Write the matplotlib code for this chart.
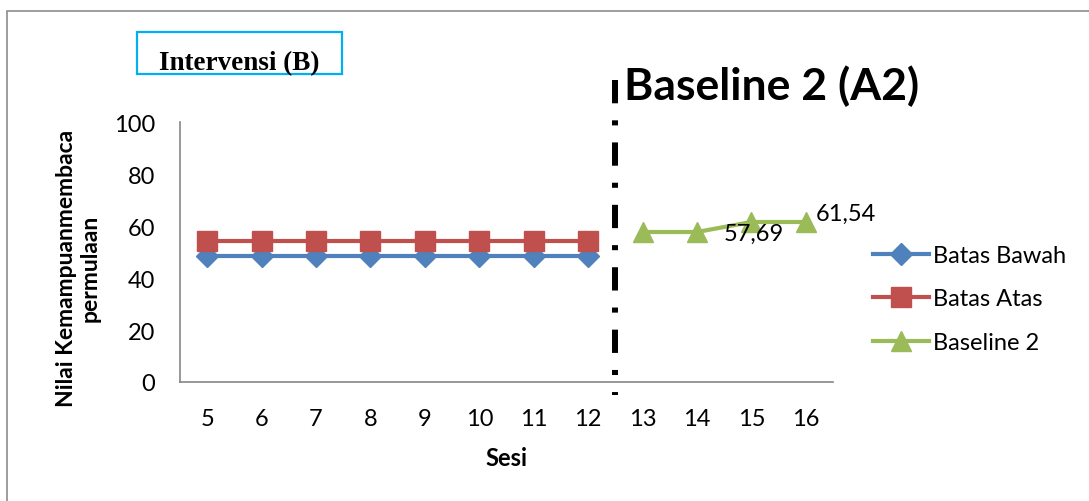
import matplotlib.pyplot as plt
from matplotlib.patches import Rectangle

sesi = ["5", "6", "7", "8", "9", "10", "11", "12", "13", "14", "15", "16"]
batas_bawah = [48.3] * 8
batas_atas = [54.4] * 8
baseline2 = [57.69, 57.69, 61.54, 61.54]
baseline2_labels = {1: "57,69", 3: "61,54"}
label_offsets = {1: (19, -1), 3: (7, 6)}

plt.rcParams["font.family"] = ["Lato", "DejaVu Sans"]

fig = plt.figure(figsize=(10.89, 5.02), dpi=100)
W, H = 1089, 502
ax = fig.add_axes([180 / W, 1 - 383 / H, 653 / W, 260 / H])

x_all = list(range(len(sesi)))
x_b = x_all[:len(batas_bawah)]
x_a2 = x_all[len(batas_bawah):]

ax.plot(x_b, batas_bawah, color="#4F81BD", lw=3, marker="D", ms=11,
        label="Batas Bawah")
ax.plot(x_b, batas_atas, color="#C0504D", lw=3, marker="s", ms=14,
        label="Batas Atas")
ax.plot(x_a2, baseline2, color="#9BBB59", lw=3, marker="^", ms=15,
        label="Baseline 2")

for i, txt in baseline2_labels.items():
    ax.annotate(txt, (x_a2[i], baseline2[i]), xytext=label_offsets[i],
                textcoords="offset points", fontsize=17, va="center", ha="left")

# phase change line between session 12 and 13
ax.plot([7.5, 7.5], [116, -5], color="black", lw=4.3, clip_on=False,
        solid_capstyle="butt", dash_capstyle="butt",
        linestyle=(0, (3.9, 2.85, 0.85, 2.85)))

ax.set_xlim(-0.5, len(sesi) - 0.5)
ax.set_ylim(0, 100)
ax.set_xticks(x_all)
ax.set_xticklabels(sesi)
ax.set_yticks(range(0, 101, 20))
ax.tick_params(length=0, labelsize=17)
ax.tick_params(axis="x", pad=19)
ax.tick_params(axis="y", pad=18)
for side in ("top", "right"):
    ax.spines[side].set_visible(False)
for side in ("left", "bottom"):
    ax.spines[side].set_color("#868686")
    ax.spines[side].set_linewidth(1.2)

ax.set_xlabel("Sesi", fontsize=17, fontweight="bold", labelpad=12)
fig.text(78 / W, 1 - 268 / H, "Nilai Kemampuanmembaca\npermulaan", rotation=90,
         fontsize=16.5, fontweight="bold", ha="center", va="center",
         linespacing=1.15)

ax.legend(loc="center left", bbox_to_anchor=(864 / W, 1 - 300 / H),
          bbox_transform=fig.transFigure, frameon=False, fontsize=17,
          handlelength=2.35, handletextpad=0.17, labelspacing=0.95,
          borderaxespad=0)

# chart frame and phase titles
fig.patches.append(Rectangle((7 / W, -0.05), 1.1, 1 - 12 / H + 0.05,
                             transform=fig.transFigure, fill=False,
                             edgecolor="#8c8c8c", lw=1.2))
fig.patches.append(Rectangle((137 / W, 1 - 75 / H), 205 / W, 42 / H,
                             transform=fig.transFigure, fill=False,
                             edgecolor="#00B0F0", lw=1.6))
fig.text(239 / W, 1 - 64 / H, "Intervensi (B)", fontsize=19.5, fontweight="bold",
         family="Liberation Serif", ha="center", va="center")
fig.text(624 / W, 1 - 86 / H, "Baseline 2 (A2)", fontsize=32, fontweight="bold",
         ha="left", va="center")

fig.savefig("out.png", dpi=100)
